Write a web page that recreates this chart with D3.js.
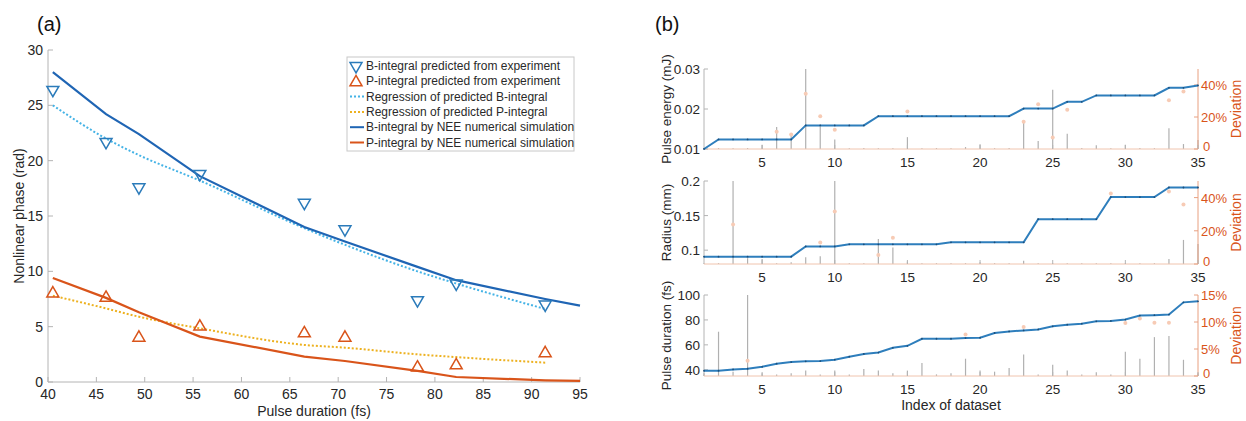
<!DOCTYPE html>
<html>
<head>
<meta charset="utf-8">
<script src="https://cdn.jsdelivr.net/npm/d3@7"></script>
<style>
  body { margin: 0; background: #fff; }
  svg { display: block; font-family: "Liberation Sans", Arial, sans-serif; }
</style>
</head>
<body>
<svg id="chart" width="1246" height="421"></svg>
<script>
// ---- panel (a) data ----
var pulseDur = [40.5, 46.0, 49.4, 55.7, 66.5, 70.7, 78.2, 82.2, 91.4];
var bExp = [26.4, 21.7, 17.6, 18.8, 16.2, 13.8, 7.4, 8.9, 7.0];
var pExp = [8.0, 7.6, 4.0, 5.0, 4.4, 4.0, 1.3, 1.5, 2.6];
var bReg = [25.0, 22.0, 20.5, 18.2, 13.9, 12.4, 10.0, 8.9, 6.6];
var pReg = [7.8, 6.65, 5.9, 4.85, 3.35, 3.1, 2.5, 2.25, 1.75];
var simDur = [40.5, 46.0, 49.4, 55.7, 66.5, 70.7, 78.2, 82.2, 91.4, 95];
var bSim = [28.0, 24.2, 22.4, 18.6, 14.0, 12.7, 10.4, 9.2, 7.5, 6.9];
var pSim = [9.4, 7.6, 6.3, 4.1, 2.3, 1.9, 1.0, 0.45, 0.15, 0.1];
var xTicksA = [40, 45, 50, 55, 60, 65, 70, 75, 80, 85, 90, 95];
var yTicksA = [0, 5, 10, 15, 20, 25, 30];
var legendLabels = ["B-integral predicted from experiment", "P-integral predicted from experiment",
  "Regression of predicted B-integral", "Regression of predicted P-integral",
  "B-integral by NEE numerical simulation", "P-integral by NEE numerical simulation"];

// ---- panel (b) data, dataset index 1..35 ----
var index = d3.range(1, 36);
var energyLine = [0.0100, 0.0124, 0.0124, 0.0124, 0.0124, 0.0124, 0.0124, 0.0159, 0.0159, 0.0159,
  0.0159, 0.0159, 0.0182, 0.0182, 0.0182, 0.0182, 0.0182, 0.0182, 0.0182, 0.0182,
  0.0182, 0.0182, 0.0201, 0.0201, 0.0201, 0.0218, 0.0218, 0.0234, 0.0234, 0.0234,
  0.0234, 0.0234, 0.0253, 0.0253, 0.0259];
var energyExpIdx = [6, 7, 8, 9, 10, 15, 23, 24, 25, 26, 33, 34];
var energyExp = [0.0143, 0.0136, 0.0238, 0.0182, 0.0148, 0.0194, 0.0168, 0.0212, 0.0129, 0.0198, 0.0222, 0.0244];
var energyDev = [0.5, 0.6, 0.5, 0.6, 2.6, 13.8, 8.7, 55, 14, 6, 0.5, 0.6, 0.5, 0.5, 7.4, 0.5, 0.6, 0.5,
  1.2, 2.9, 0.5, 0.6, 17.7, 5, 37, 9.5, 0.6, 2.3, 0.5, 2.7, 0.6, 0.5, 13, 3.1, 5.6];

var radiusLine = [0.0906, 0.0906, 0.0906, 0.0906, 0.0906, 0.0906, 0.0906, 0.1054, 0.1054, 0.1054,
  0.1084, 0.1084, 0.1084, 0.1084, 0.1084, 0.1084, 0.1084, 0.1113, 0.1113, 0.1113,
  0.1113, 0.1113, 0.1113, 0.1448, 0.1448, 0.1448, 0.1448, 0.1448, 0.1768, 0.1768,
  0.1768, 0.1768, 0.1906, 0.1906, 0.1906];
var radiusExpIdx = [3, 9, 10, 13, 14, 29, 33, 34];
var radiusExp = [0.137, 0.111, 0.156, 0.093, 0.118, 0.182, 0.185, 0.166];
var radiusDev = [0.5, 0.5, 55, 3.5, 3, 0.5, 1, 4, 4.6, 55, 0.5, 0.5, 15, 10, 1.5, 0.5, 0.5, 0.5,
  0.5, 1, 0.5, 0.5, 2, 0.5, 0.5, 0.5, 0.5, 0.5, 0.5, 0.5, 0.5, 0.5, 3, 14.5, 12];

var durationLine = [39.2, 39.2, 40.3, 40.8, 42.4, 44.9, 46.2, 46.8, 47.0, 48.1,
  50.5, 52.7, 53.8, 57.6, 59.2, 64.9, 64.9, 64.9, 65.4, 65.7,
  69.5, 70.8, 71.6, 72.4, 74.9, 76.2, 77.0, 78.9, 79.2, 80.3,
  83.5, 83.8, 84.3, 94.1, 94.9];
var durationExpIdx = [4, 19, 23, 30, 31, 32, 33];
var durationExp = [47.3, 68.4, 74.3, 77.6, 81.1, 77.8, 77.8];
var durationDev = [0.5, 8.2, 0.8, 16, 0.5, 0.3, 0.5, 1, 0.3, 1, 0.3, 1.3, 1, 0.5, 1, 2.4, 0.3, 0.5,
  3.2, 1, 0.8, 1.5, 4, 0.3, 2.1, 1, 0.3, 0.7, 0.3, 4.5, 3.2, 7.2, 7.4, 3, 0.5];
var xTicksB = [5, 10, 15, 20, 25, 30, 35];

var axisGray = "#b4b4b4", textCol = "#262626", devCol = "#d9541a";
var svg = d3.select("#chart");

// ================= panel (a) =================
var xA = d3.scaleLinear().domain([40, 95]).range([48, 580]);
var yA = d3.scaleLinear().domain([0, 30]).range([382, 50]);

svg.append("text").text("(a)").attr("x", 37).attr("y", 31)
   .attr("font-size", "20px").attr("fill", "#111");

var gA = svg.append("g");
gA.append("line").attr("x1", 48).attr("x2", 48).attr("y1", 50).attr("y2", 382)
  .attr("stroke", axisGray);
gA.append("line").attr("x1", 48).attr("x2", 580).attr("y1", 382).attr("y2", 382)
  .attr("stroke", axisGray);
gA.selectAll(".xt").data(xTicksA).enter().append("line")
  .attr("x1", function(d) { return xA(d); }).attr("x2", function(d) { return xA(d); })
  .attr("y1", 382).attr("y2", 377).attr("stroke", axisGray);
gA.selectAll(".xl").data(xTicksA).enter().append("text")
  .text(function(d) { return d; })
  .attr("x", function(d) { return xA(d); }).attr("y", 399)
  .attr("text-anchor", "middle").attr("font-size", "14px").attr("fill", textCol);
gA.selectAll(".yt").data(yTicksA).enter().append("line")
  .attr("x1", 48).attr("x2", 53)
  .attr("y1", function(d) { return yA(d); }).attr("y2", function(d) { return yA(d); })
  .attr("stroke", axisGray);
gA.selectAll(".yl").data(yTicksA).enter().append("text")
  .text(function(d) { return d; })
  .attr("x", 43).attr("y", function(d) { return yA(d) + 5; })
  .attr("text-anchor", "end").attr("font-size", "14px").attr("fill", textCol);
gA.append("text").text("Pulse duration (fs)").attr("x", 314).attr("y", 416)
  .attr("text-anchor", "middle").attr("font-size", "14px").attr("fill", textCol);
gA.append("text").text("Nonlinear phase (rad)")
  .attr("transform", "translate(24,216) rotate(-90)")
  .attr("text-anchor", "middle").attr("font-size", "14px").attr("fill", textCol);

var lineA = function(xs, ys) {
  return d3.line().x(function(d, i) { return xA(xs[i]); }).y(function(d) { return yA(d); })(ys);
};
var smoothA = function(xs, ys) {
  return d3.line().curve(d3.curveMonotoneX)
    .x(function(d, i) { return xA(xs[i]); }).y(function(d) { return yA(d); })(ys);
};
gA.append("path").attr("d", smoothA(pulseDur, bReg)).attr("fill", "none")
  .attr("stroke", "#45b3e6").attr("stroke-width", 2).attr("stroke-dasharray", "2,2");
gA.append("path").attr("d", smoothA(pulseDur, pReg)).attr("fill", "none")
  .attr("stroke", "#edb120").attr("stroke-width", 2).attr("stroke-dasharray", "2,2");
gA.append("path").attr("d", lineA(simDur, bSim)).attr("fill", "none")
  .attr("stroke", "#1f65b4").attr("stroke-width", 2.2);
gA.append("path").attr("d", lineA(simDur, pSim)).attr("fill", "none")
  .attr("stroke", "#d9541a").attr("stroke-width", 2.2);

var tri = d3.symbol().type(d3.symbolTriangle).size(62);
gA.selectAll(".bm").data(bExp).enter().append("path").attr("d", tri)
  .attr("transform", function(d, i) { return "translate(" + xA(pulseDur[i]) + "," + yA(d) + ") rotate(180)"; })
  .attr("fill", "none").attr("stroke", "#2b7bba").attr("stroke-width", 1.5);
gA.selectAll(".pm").data(pExp).enter().append("path").attr("d", tri)
  .attr("transform", function(d, i) { return "translate(" + xA(pulseDur[i]) + "," + yA(d) + ")"; })
  .attr("fill", "none").attr("stroke", "#d9541a").attr("stroke-width", 1.5);

// legend
var lg = svg.append("g");
lg.append("rect").attr("x", 347).attr("y", 57).attr("width", 227).attr("height", 94)
  .attr("fill", "#fff").attr("stroke", "#c8c8c8");
legendLabels.forEach(function(t, i) {
  var yy = 66 + i * 15.3;
  if (i === 0) {
    lg.append("path").attr("d", tri).attr("transform", "translate(356," + yy + ") rotate(180)")
      .attr("fill", "none").attr("stroke", "#2b7bba").attr("stroke-width", 1.5);
  } else if (i === 1) {
    lg.append("path").attr("d", tri).attr("transform", "translate(356," + (yy + 1) + ")")
      .attr("fill", "none").attr("stroke", "#d9541a").attr("stroke-width", 1.5);
  } else {
    var col = ["#45b3e6", "#edb120", "#1f65b4", "#d9541a"][i - 2];
    lg.append("line").attr("x1", 350).attr("x2", 364).attr("y1", yy).attr("y2", yy)
      .attr("stroke", col).attr("stroke-width", 2)
      .attr("stroke-dasharray", i < 4 ? "2,2" : null);
  }
  lg.append("text").text(t).attr("x", 366).attr("y", yy + 4)
    .attr("font-size", "12px").attr("fill", "#2a2a2a");
});

// ================= panel (b) =================
svg.append("text").text("(b)").attr("x", 655).attr("y", 31)
   .attr("font-size", "20px").attr("fill", "#111");

var xB = d3.scaleLinear().domain([1, 35]).range([704, 1198]);

function subplot(top, bottom, leftDom, leftTicks, leftFmt, rightDom, rightTicks,
                 lineVals, expIdx, expVals, devVals, ylabel) {
  var g = svg.append("g");
  var yL = d3.scaleLinear().domain(leftDom).range([bottom, top]);
  var yR = d3.scaleLinear().domain(rightDom).range([bottom, top]);

  // stems (deviation, right axis)
  g.selectAll(".stem").data(devVals).enter().append("line")
    .attr("x1", function(d, i) { return xB(index[i]); })
    .attr("x2", function(d, i) { return xB(index[i]); })
    .attr("y1", bottom)
    .attr("y2", function(d) { return Math.max(top, yR(d)); })
    .attr("stroke", "#b0b0b0").attr("stroke-width", 1.2);

  // axes
  g.append("line").attr("x1", 704).attr("x2", 704).attr("y1", top).attr("y2", bottom)
    .attr("stroke", axisGray);
  g.append("line").attr("x1", 704).attr("x2", 1198).attr("y1", bottom).attr("y2", bottom)
    .attr("stroke", "#f0c4ae");
  g.append("line").attr("x1", 1198).attr("x2", 1198).attr("y1", top).attr("y2", bottom)
    .attr("stroke", "#e8a080");
  g.selectAll(".xt").data(xTicksB).enter().append("line")
    .attr("x1", function(d) { return xB(d); }).attr("x2", function(d) { return xB(d); })
    .attr("y1", bottom).attr("y2", bottom - 4).attr("stroke", axisGray);
  g.selectAll(".xl").data(xTicksB).enter().append("text").text(function(d) { return d; })
    .attr("x", function(d) { return xB(d); }).attr("y", bottom + 18)
    .attr("text-anchor", "middle").attr("font-size", "13.5px").attr("fill", textCol);
  g.selectAll(".yt").data(leftTicks).enter().append("line")
    .attr("x1", 704).attr("x2", 708)
    .attr("y1", function(d) { return yL(d); }).attr("y2", function(d) { return yL(d); })
    .attr("stroke", axisGray);
  g.selectAll(".yl").data(leftTicks).enter().append("text").text(leftFmt)
    .attr("x", 700).attr("y", function(d) { return yL(d) + 5; })
    .attr("text-anchor", "end").attr("font-size", "13.5px").attr("fill", textCol);
  g.selectAll(".rt").data(rightTicks).enter().append("line")
    .attr("x1", 1194).attr("x2", 1198)
    .attr("y1", function(d) { return yR(d); }).attr("y2", function(d) { return yR(d); })
    .attr("stroke", "#e8a080");
  g.selectAll(".rl").data(rightTicks).enter().append("text")
    .text(function(d) { return d === 0 ? "0" : d + "%"; })
    .attr("x", function(d) { return d === 0 ? 1203 : 1201; })
    .attr("y", function(d) { return yR(d) + (d === 0 ? 2 : 5); })
    .attr("font-size", "13px").attr("fill", devCol);

  // experimental points
  g.selectAll(".ex").data(expVals).enter().append("circle")
    .attr("cx", function(d, i) { return xB(expIdx[i]); })
    .attr("cy", function(d) { return yL(d); })
    .attr("r", 2).attr("fill", "#f7cbb5");

  // blue line
  var ln = d3.line().x(function(d, i) { return xB(index[i]); }).y(function(d) { return yL(d); });
  g.append("path").attr("d", ln(lineVals)).attr("fill", "none")
    .attr("stroke", "#2e7ebc").attr("stroke-width", 2);
  g.selectAll(".lm").data(lineVals).enter().append("circle")
    .attr("cx", function(d, i) { return xB(index[i]); })
    .attr("cy", function(d) { return yL(d); })
    .attr("r", 0.9).attr("fill", "#1b4f7c");

  var mid = (top + bottom) / 2;
  g.append("text").text(ylabel).attr("transform", "translate(671," + mid + ") rotate(-90)")
    .attr("text-anchor", "middle").attr("font-size", "13.5px").attr("fill", textCol);
  g.append("text").text("Deviation").attr("transform", "translate(1241," + mid + ") rotate(-90)")
    .attr("text-anchor", "middle").attr("font-size", "14px").attr("fill", devCol);
}

subplot(69, 149, [0.01, 0.03], [0.01, 0.02, 0.03], function(d) { return d.toFixed(2); },
        [0, 50], [0, 20, 40], energyLine, energyExpIdx, energyExp, energyDev, "Pulse energy (mJ)");
subplot(181, 264, [0.08, 0.2], [0.1, 0.15, 0.2], function(d) { return d === 0.15 ? "0.15" : d.toFixed(1); },
        [0, 50], [0, 20, 40], radiusLine, radiusExpIdx, radiusExp, radiusDev, "Radius (mm)");
subplot(295, 376, [35, 100], [40, 60, 80, 100], function(d) { return d; },
        [0, 15], [0, 5, 10, 15], durationLine, durationExpIdx, durationExp, durationDev, "Pulse duration (fs)");

svg.append("text").text("Index of dataset").attr("x", 951).attr("y", 410)
  .attr("text-anchor", "middle").attr("font-size", "14px").attr("fill", textCol);
</script>
</body>
</html>
